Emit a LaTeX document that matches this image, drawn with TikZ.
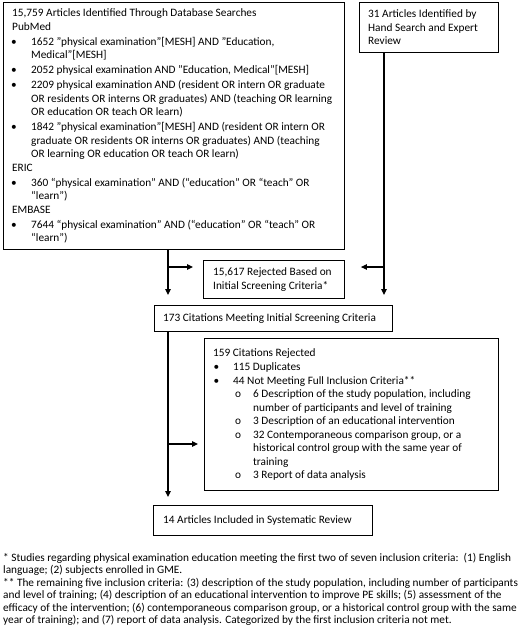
\documentclass[tikz,border=0pt]{standalone}
\usepackage{fontspec}
\setmainfont{Carlito}
\usetikzlibrary{arrows.meta}
\begin{document}
\begin{tikzpicture}[x=1pt,y=-1pt,
  boxnode/.style={draw, line width=0.9pt, anchor=north west, inner sep=0pt},
  txt/.style={anchor=west, inner sep=0pt, align=left, font=\fontsize{11.3}{13.5}\selectfont},
  fnote/.style={anchor=north west, inner sep=0pt, align=left, font=\fontsize{11.3}{12.4}\selectfont},
  conn/.style={line width=1.1pt, -{Triangle[length=6pt,width=5.5pt]}},
  plain/.style={line width=1.1pt}]
\useasboundingbox (0,0) rectangle (520,635);
\newcommand{\sq}{\char34\relax}
\newcommand{\bl}{\makebox[19pt][l]{\hspace{-1pt}•}}
\newcommand{\ind}{\hspace*{19pt}}
\newcommand{\blb}{\makebox[20pt][l]{\hspace{0.5pt}•}}
\newcommand{\indb}{\hspace*{20pt}}
\newcommand{\slb}{\hspace*{22pt}\makebox[18pt][l]{o}}
\newcommand{\indc}{\hspace*{40pt}}
% boxes
\node[boxnode, minimum width=341pt, minimum height=247pt] (b1) at (3,2) {};
\node[boxnode, minimum width=139pt, minimum height=50pt] (b2) at (359,2) {};
\node[boxnode, minimum width=141pt, minimum height=38pt] (rej) at (203,260) {};
\node[boxnode, minimum width=238pt, minimum height=26pt] (b173) at (154,305) {};
\node[boxnode, minimum width=294pt, minimum height=152pt] (b159) at (204,338) {};
\node[boxnode, minimum width=219pt, minimum height=30pt] (b14) at (153,505) {};
% texts
\node[txt] (t1) at ([xshift=9pt]b1.west) {15,759 Articles Identified Through Database Searches\\
PubMed\\[1.5pt]
\bl1652 \sq physical examination\sq[MESH] AND \sq Education,\\
\ind Medical\sq[MESH]\\[1.5pt]
\bl2052 physical examination AND \sq Education, Medical\sq[MESH]\\[1.5pt]
\bl2209 physical examination AND (resident OR intern OR graduate\\
\ind OR residents OR interns OR graduates) AND (teaching OR learning\\
\ind OR education OR teach OR learn)\\[1.5pt]
\bl1842 \sq physical examination\sq[MESH] AND (resident OR intern OR\\
\ind graduate OR residents OR interns OR graduates) AND (teaching\\
\ind OR learning OR education OR teach OR learn)\\
ERIC\\[1.5pt]
\bl360 “physical examination” AND (“education” OR “teach” OR\\
\ind “learn”)\\
EMBASE\\[1.5pt]
\bl7644 “physical examination” AND (“education” OR “teach” OR\\
\ind “learn”)};
\node[txt] (t2) at ([xshift=9pt]b2.west) {31 Articles Identified by\\ Hand Search and Expert\\ Review};
\node[txt] (trej) at ([xshift=10pt]rej.west) {15,617 Rejected Based on\\ Initial Screening Criteria*};
\node[txt] (t173) at ([xshift=9pt]b173.west) {173 Citations Meeting Initial Screening Criteria};
\node[txt] (t159) at ([xshift=9pt]b159.west) {159 Citations Rejected\\[1pt]
\blb115 Duplicates\\
\blb44 Not Meeting Full Inclusion Criteria**\\
\slb6 Description of the study population, including\\
\indc number of participants and level of training\\
\slb3 Description of an educational intervention\\
\slb32 Contemporaneous comparison group, or a\\
\indc historical control group with the same year of\\
\indc training\\
\slb3 Report of data analysis};
\node[txt] (t14) at ([xshift=10pt]b14.west) {14 Articles Included in Systematic Review};
\node[fnote] (fn) at (3,553) {* Studies regarding physical examination education meeting the first two of seven inclusion criteria:\ \ (1) English\\
language; (2) subjects enrolled in GME.\\
** The remaining five inclusion criteria: (3) description of the study population, including number of participants\\
and level of training; (4) description of an educational intervention to improve PE skills; (5) assessment of the\\
efficacy of the intervention; (6) contemporaneous comparison group, or a historical control group with the same\\
year of training); and (7) report of data analysis. Categorized by the first inclusion criteria not met.};
% connectors
\coordinate (lx) at (168,0);
\coordinate (rx) at (384,0);
\coordinate (jl) at (168,267);
\coordinate (jr) at (384,267);
\coordinate (jl2) at (168,444);
\draw[conn] (b1.south -| lx) -- ([yshift=10pt]b173.north -| lx);
\draw[conn] (jl) -- ([xshift=-10pt]rej.west |- jl);
\draw[conn] (b2.south -| rx) -- ([yshift=10pt]b173.north -| rx);
\draw[conn] (jr) -- ([xshift=16pt]rej.east |- jr);
\draw[conn] (b173.south -| lx) -- ([yshift=8pt]b14.north -| lx);
\draw[conn] (jl2) -- ([xshift=-6pt]b159.west |- jl2);
\end{tikzpicture}
\end{document}
